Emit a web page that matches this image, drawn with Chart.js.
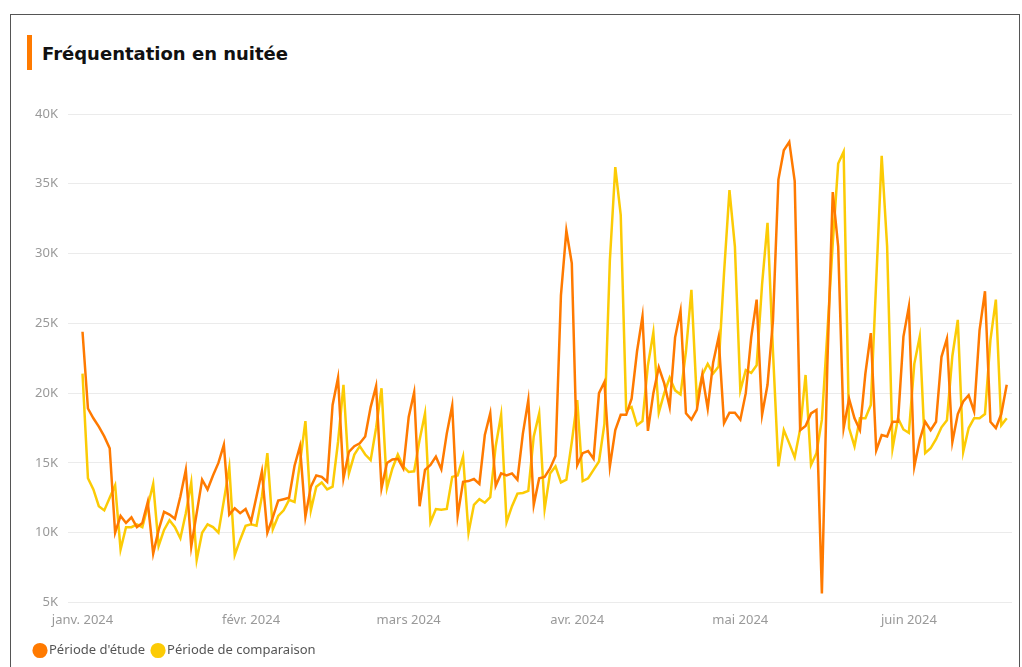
<!DOCTYPE html>
<html><head><meta charset="utf-8">
<script src="https://cdn.jsdelivr.net/npm/chart.js@4.4.1/dist/chart.umd.min.js"></script>
<style>
html,body{margin:0;padding:0;background:#fff;width:1022px;height:667px;overflow:hidden;}
#card{position:absolute;left:10px;top:14px;width:1010px;height:700px;border:1px solid #555;box-sizing:border-box;}
#bar{position:absolute;left:27px;top:35px;width:5px;height:35px;background:#FF7A00;}
#title{position:absolute;left:42px;top:42px;font:bold 18px "DejaVu Sans";color:#111;line-height:24px;white-space:nowrap;}
#wrap{position:absolute;left:10px;top:88px;width:1012px;height:579px;}
</style></head><body>
<div id="card"></div>
<div id="bar"></div>
<div id="title">Fréquentation en nuitée</div>
<div id="wrap"><canvas id="c" width="1012" height="579"></canvas></div>
<script>
const monthLabels = ['janv. 2024','févr. 2024','mars 2024','avr. 2024','mai 2024','juin 2024'];
const monthStarts = [0,31,60,91,121,152];
const seriesNames = ["Période d'étude","Période de comparaison"];
// Nuitées journalières, 1 janv. -> 19 juin 2024
const etude = [24400,18900,18200,17600,16900,16050,10000,11200,10700,11100,10400,10700,12200,8500,10200,11500,11300,11000,12600,14500,
9000,11400,13800,13100,14100,15000,16300,11300,11750,11400,11700,10800,12600,14400,10000,11100,12300,12400,12500,14800,
16200,11150,13300,14100,14000,13650,19150,21100,13900,15800,16200,16400,16900,19000,20500,13200,15000,15250,15300,14600,
18300,20050,11900,14500,14850,15450,14550,17100,19100,11200,13650,13700,13850,13500,17000,18550,13350,14250,14100,14250,
13800,17100,19500,12000,13900,14000,14600,15500,27000,31650,29300,14850,15700,15850,15300,20000,20800,14750,17350,18450,
18450,19600,23000,25500,17300,20000,21850,20700,19000,24000,25900,18550,18100,18800,21300,18900,22200,24000,17850,18600,
18600,18100,20000,24000,26700,18450,20600,25200,35300,37400,38000,35200,17350,17650,18550,18800,5650,22000,34400,30500,
17500,19600,18200,17350,21400,24300,15900,17000,16900,17950,17950,24050,26200,14750,16650,17950,17350,17950,22600,23900,
16500,18500,19400,19850,18700,24500,27300,17950,17500,18500,20600];
const comparaison = [21400,13900,13100,11900,11600,12500,13400,8800,10400,10400,10600,10400,11900,13500,9050,10200,10900,10400,9600,11400,
13600,8050,10000,10600,10400,10000,12300,14700,8400,9500,10500,10600,10500,12600,15700,10250,11200,11600,12350,12200,
15000,18000,11600,13300,13600,13100,13300,16500,20600,14250,15600,16200,15600,15200,17500,20350,13200,14600,15600,14750,
14350,14400,16650,18550,10750,11700,11650,11700,14000,14100,15450,10000,12000,12400,12150,12550,16200,18450,10750,11900,
12800,12850,13000,16900,18550,11700,14250,14750,13600,13800,16500,19500,13700,13900,14500,15100,17800,29500,36200,32750,
18800,19000,17700,18000,22000,24350,18600,20000,21100,20200,19900,23000,27400,19500,21300,22100,21400,21900,28600,34550,
30500,20200,21650,21450,22000,27800,32200,23000,14750,17350,16400,15400,17400,21300,14850,15700,18100,24300,30750,36450,
37300,17500,16200,18200,18200,19150,28100,37000,30500,16050,18200,17400,17150,22100,24050,15700,16050,16700,17550,18050,
22660,25250,15800,17500,18200,18200,18500,23800,26700,17700,18200];
const yMin = 5000, yMax = 40000, yStep = 5000;
const colEtude = '#FF7A00', colComp = '#FCCB05';

const toPts = arr => arr.map((v,i)=>({x:i,y:v}));
new Chart(document.getElementById('c'), {
  type:'line',
  data:{datasets:[
    {label:seriesNames[0], data:toPts(etude), borderColor:colEtude, backgroundColor:colEtude, borderWidth:2.5, pointRadius:0, tension:0, order:1},
    {label:seriesNames[1], data:toPts(comparaison), borderColor:colComp, backgroundColor:colComp, borderWidth:2.5, pointRadius:0, tension:0, order:2}
  ]},
  options:{
    responsive:false, animation:false,
    layout:{padding:{left:17,right:10,top:26,bottom:0}},
    plugins:{
      tooltip:{enabled:false},
      legend:{position:'bottom', align:'start',
        labels:{usePointStyle:true, pointStyle:'circle', boxWidth:5, boxHeight:9, padding:10.5,
          font:{family:'Noto Sans', size:13}, color:'#555'}}
    },
    scales:{
      x:{type:'linear', min:-2.67, max:170.97,
        grid:{display:false}, border:{display:false},
        afterBuildTicks:s=>{ s.ticks = monthStarts.map(v=>({value:v})); },
        afterFit:s=>{ s.height = 31; },
        ticks:{autoSkip:false, maxRotation:0, padding:2, color:'#999', font:{family:'Noto Sans', size:13},
          callback:v=>monthLabels[monthStarts.indexOf(v)]}},
      y:{min:yMin, max:yMax, grid:{color:'#EBEBEB', drawTicks:false, lineWidth:1}, border:{display:false},
        afterFit:s=>{ s.width = 41; },
        ticks:{stepSize:yStep, padding:10, color:'#999', font:{family:'Noto Sans', size:13},
          callback:v=>(v/1000)+'K'}}
    }
  }
});
</script>
</body></html>
